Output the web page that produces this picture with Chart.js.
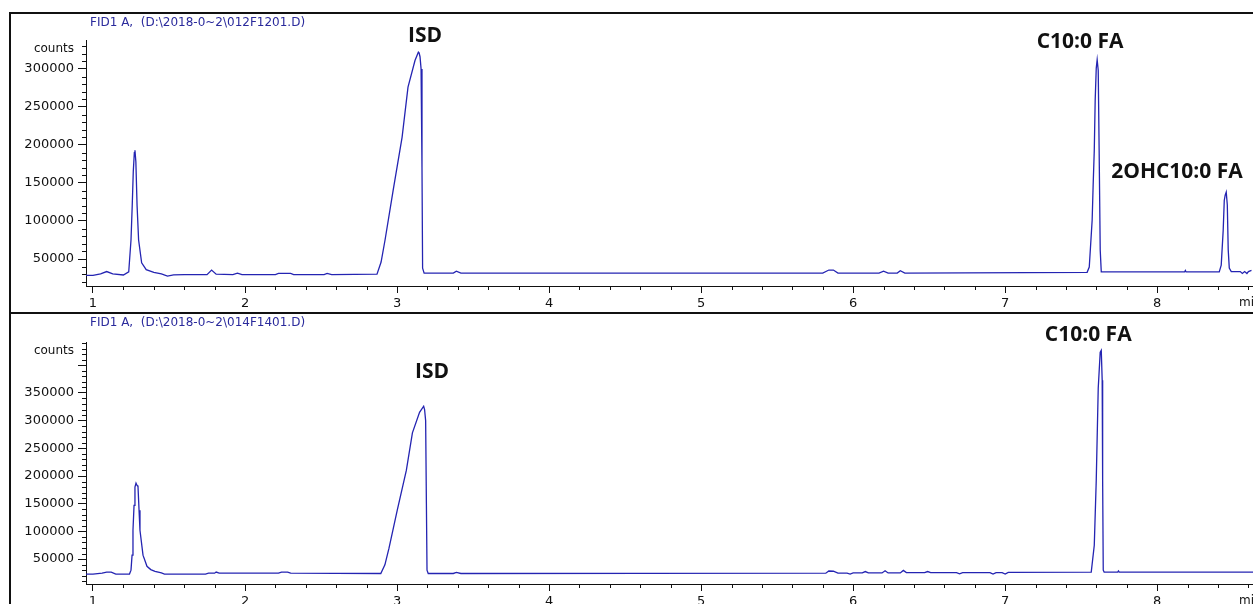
<!DOCTYPE html>
<html>
<head>
<meta charset="utf-8">
<script src="https://cdn.jsdelivr.net/npm/chart.js@4.4.1/dist/chart.umd.min.js"></script>
<style>
html, body { margin: 0; padding: 0; background: #fff; overflow: hidden; width: 1253px; height: 604px; }
#frame { position: absolute; left: 9px; top: 12px; width: 1300px; height: 700px; border-left: 2px solid #111; border-top: 2px solid #111; }
#divider { position: absolute; left: 9px; top: 312px; width: 1300px; height: 2px; background: #111; }
.panel { position: absolute; left: 11px; width: 1242px; }
#topPanel { top: 14px; height: 298px; }
#bottomPanel { top: 314px; height: 300px; }
</style>
</head>
<body>
<div id="frame"></div>
<div id="divider"></div>
<div class="panel" id="topPanel"><canvas id="topChart"></canvas></div>
<div class="panel" id="bottomPanel"><canvas id="bottomChart"></canvas></div>
<script>
// retention time (min) and detector counts
const topTime = [
  0.954, 1.00, 1.05, 1.09, 1.13, 1.20,
  1.235, 1.25, 1.258, 1.265, 1.272, 1.276, 1.282, 1.29, 1.30, 1.32, 1.35, 1.40, 1.45, 1.49, 1.53, 1.60,
  1.75, 1.78, 1.81, 1.92, 1.95, 1.98, 2.20, 2.22, 2.30, 2.32, 2.52, 2.54, 2.57,
  2.868, 2.895, 2.921, 2.974, 3.033, 3.072, 3.118, 3.14, 3.145, 3.151, 3.158, 3.164, 3.168, 3.178,
  3.30, 3.37, 3.39, 3.42, 5.80, 5.84, 5.87, 5.90, 6.17, 6.20, 6.23, 6.29, 6.31, 6.34,
  7.539, 7.553, 7.572, 7.579, 7.586, 7.592, 7.599, 7.605, 7.612, 7.618, 7.625, 7.632,
  8.18, 8.185, 8.19,
  8.408, 8.421, 8.434, 8.441, 8.447, 8.454, 8.461, 8.467, 8.474, 8.487,
  8.546, 8.56, 8.575, 8.59, 8.60, 8.62
];
const topCounts = [
  28500, 28500, 30500, 33500, 30500, 29000,
  33000, 75000, 120000, 165000, 190000, 193000, 178000, 120000, 75000, 45000, 36000, 32500, 30500, 27500, 29000, 29500,
  29500, 35500, 30000, 29500, 31500, 29500, 29500, 31000, 31000, 29500, 29500, 31000, 29500,
  30000, 46000, 75000, 140000, 210000, 276000, 311000, 322000, 321000, 316000, 300000, 170000, 38000, 31500,
  31500, 31500, 34000, 31500, 31500, 35500, 35500, 31500, 31500, 34000, 31500, 31500, 34500, 31500,
  32500, 39500, 101000, 150000, 193000, 259000, 301000, 312000, 298000, 193000, 62000, 33000,
  33000, 35000, 33000,
  33000, 42000, 88000, 127000, 134000, 138000, 121000, 62000, 38000, 33500,
  33500, 31000, 33500, 31000, 33500, 35000
];

const bottomTime = [
  0.954, 1.00, 1.06, 1.09, 1.12, 1.15,
  1.24, 1.25, 1.257, 1.263, 1.27, 1.276, 1.283, 1.29, 1.296, 1.303, 1.309, 1.329, 1.355, 1.38, 1.408, 1.45, 1.47,
  1.74, 1.76, 1.80, 1.81, 1.83, 2.22, 2.24, 2.28, 2.30,
  2.893, 2.920, 2.947, 3.001, 3.061, 3.101, 3.148, 3.175, 3.181, 3.188, 3.193, 3.197, 3.205,
  3.37, 3.39, 3.42,
  5.82, 5.84, 5.87, 5.90, 5.96, 5.98, 6.00, 6.06, 6.08, 6.10, 6.19, 6.21, 6.23, 6.31, 6.33, 6.35,
  6.47, 6.49, 6.51, 6.68, 6.70, 6.72, 6.90, 6.92, 6.94, 6.98, 7.00, 7.02,
  7.566, 7.586, 7.599, 7.612, 7.625, 7.632, 7.638, 7.641, 7.645, 7.651,
  7.74, 7.745, 7.75, 8.63
];
const bottomCounts = [
  23000, 23000, 24500, 26500, 26500, 23000,
  23000, 30000, 57000, 102000, 147000, 180000, 187000, 183000, 181000, 138000, 102000, 57000, 37000, 31000, 28000, 25000, 23000,
  23000, 24500, 24500, 26500, 24500, 24500, 26500, 26500, 24500,
  24000, 39700, 69700, 137800, 210000, 278000, 315000, 326000, 320000, 300000, 150000, 30000, 24000,
  24000, 26000, 24000,
  24500, 28500, 28000, 24500, 24500, 23000, 25000, 25000, 27500, 25000, 25000, 29000, 25000, 25000, 29500, 25500,
  25500, 27500, 25500, 25500, 23500, 25500, 25500, 23000, 25500, 25500, 23000, 26000,
  26500, 75000, 192600, 358600, 423600, 427000, 373000, 192600, 30000, 26500,
  26500, 28500, 26500, 26500
];

// major ticks and which of them carry a label
const xTicks = [1, 2, 3, 4, 5, 6, 7, 8];
const topYTicks = [50000, 100000, 150000, 200000, 250000, 300000];
const topYLabels = [50000, 100000, 150000, 200000, 250000, 300000];
const bottomYTicks = [50000, 100000, 150000, 200000, 250000, 300000, 350000, 400000];
const bottomYLabels = [50000, 100000, 150000, 200000, 250000, 300000, 350000];

// peak names
const topNotes = ['ISD', 'C10:0 FA', '2OHC10:0 FA'];
const topNoteTimes = [3.184, 7.493, 7.697];
const topNoteCounts = [343000, 336000, 164500];
const bottomNotes = ['ISD', 'C10:0 FA'];
const bottomNoteTimes = [3.23, 7.546];
const bottomNoteCounts = [387500, 454300];

const lineColor = '#2424b2';
const inkColor = '#111';
const tickFont = { family: "'DejaVu Sans', sans-serif", size: 13 };

const chromDeco = {
  id: 'chromDeco',
  afterDraw(chart, args, opts) {
    const ctx = chart.ctx;
    const xs = chart.scales.x;
    const ys = chart.scales.y;
    ctx.save();
    ctx.strokeStyle = inkColor;
    ctx.lineWidth = 1;
    // minor ticks
    ctx.beginPath();
    for (let k = Math.ceil(xs.min * 5); k <= Math.floor(xs.max * 5); k++) {
      if (k % 5 === 0) continue;
      const px = Math.round(xs.getPixelForValue(k / 5)) + 0.5;
      ctx.moveTo(px, xs.top);
      ctx.lineTo(px, xs.top + 4);
    }
    for (let k = Math.ceil(ys.min / 10000); k <= Math.floor(ys.max / 10000); k++) {
      if (k % 5 === 0) continue;
      const py = Math.round(ys.getPixelForValue(k * 10000)) + 0.5;
      ctx.moveTo(ys.right - 4, py);
      ctx.lineTo(ys.right, py);
    }
    ctx.stroke();

    // file title
    ctx.fillStyle = '#2a2a9c';
    ctx.font = "12px 'DejaVu Sans', sans-serif";
    ctx.textAlign = 'left';
    ctx.textBaseline = 'middle';
    ctx.fillText(opts.title, 79, 9);

    // axis words
    ctx.fillStyle = inkColor;
    ctx.font = "12px 'DejaVu Sans', sans-serif";
    ctx.textAlign = 'right';
    ctx.fillText('counts', ys.right - 12, chart.chartArea.top + 9);
    ctx.textAlign = 'left';
    ctx.textBaseline = 'top';
    ctx.fillText('min', chart.chartArea.right - 14, xs.top + 11);

    // peak labels
    ctx.font = "bold 21px 'Open Sans', sans-serif";
    ctx.textBaseline = 'middle';
    opts.notes.forEach((txt, i) => {
      ctx.textAlign = opts.aligns[i] || 'center';
      ctx.fillText(txt, xs.getPixelForValue(opts.times[i]), ys.getPixelForValue(opts.counts[i]));
    });
    ctx.restore();
  }
};

function makeChart(id, times, counts, cfg) {
  const ctx = document.getElementById(id).getContext('2d');
  return new Chart(ctx, {
    type: 'line',
    data: {
      datasets: [{
        data: times.map((t, i) => ({ x: t, y: counts[i] })),
        borderColor: lineColor,
        borderWidth: 1.3,
        pointRadius: 0,
        tension: 0,
        fill: false
      }]
    },
    options: {
      responsive: true,
      maintainAspectRatio: false,
      animation: false,
      events: [],
      layout: { padding: { top: cfg.padTop, right: 0, left: 0, bottom: 0 } },
      scales: {
        x: {
          type: 'linear',
          min: 0.954,
          max: 8.63,
          afterBuildTicks: s => { s.ticks = xTicks.map(v => ({ value: v })); },
          afterFit: s => { s.height = cfg.xHeight; },
          grid: { drawOnChartArea: false, tickLength: 7, color: inkColor, lineWidth: 1 },
          border: { display: true, color: inkColor, width: 1 },
          ticks: {
            autoSkip: false,
            maxRotation: 0,
            padding: 3,
            color: inkColor,
            font: tickFont,
            callback: v => String(v)
          }
        },
        y: {
          type: 'linear',
          min: cfg.yMin,
          max: cfg.yMax,
          afterBuildTicks: s => { s.ticks = cfg.yTicks.map(v => ({ value: v })); },
          afterFit: s => { s.width = 75; },
          grid: { drawOnChartArea: false, tickLength: 8, color: inkColor, lineWidth: 1 },
          border: { display: true, color: inkColor, width: 1 },
          ticks: {
            autoSkip: false,
            padding: 4,
            color: inkColor,
            font: tickFont,
            callback: v => cfg.yLabels.includes(v) ? String(v) : ''
          }
        }
      },
      plugins: {
        legend: { display: false },
        tooltip: { enabled: false },
        chromDeco: {
          title: cfg.title,
          notes: cfg.notes,
          times: cfg.noteTimes,
          counts: cfg.noteCounts,
          aligns: cfg.aligns
        }
      }
    },
    plugins: [chromDeco]
  });
}

makeChart('topChart', topTime, topCounts, {
  padTop: 26, xHeight: 26, yMin: 14500, yMax: 338000,
  yTicks: topYTicks, yLabels: topYLabels,
  title: 'FID1 A,  (D:\\2018-0~2\\012F1201.D)',
  notes: topNotes, noteTimes: topNoteTimes, noteCounts: topNoteCounts,
  aligns: ['center', 'center', 'left']
});

makeChart('bottomChart', bottomTime, bottomCounts, {
  padTop: 28, xHeight: 30, yMin: 5000, yMax: 442000,
  yTicks: bottomYTicks, yLabels: bottomYLabels,
  title: 'FID1 A,  (D:\\2018-0~2\\014F1401.D)',
  notes: bottomNotes, noteTimes: bottomNoteTimes, noteCounts: bottomNoteCounts,
  aligns: ['center', 'center']
});
</script>
</body>
</html>
